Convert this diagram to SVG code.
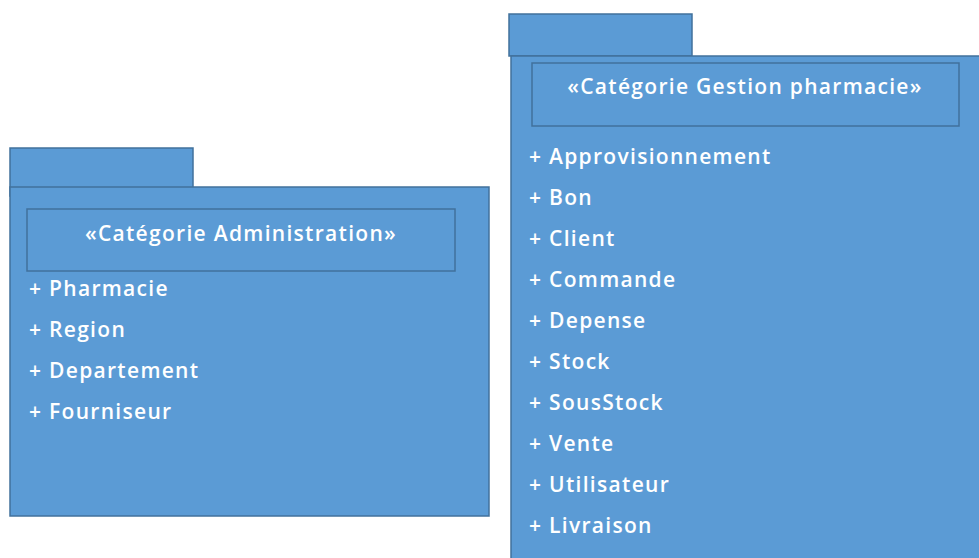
<svg xmlns="http://www.w3.org/2000/svg" width="979" height="558" viewBox="0 0 979 558">
<style>
.pk{fill:#5B9BD5;stroke:#41719C;stroke-width:1.5}
.t{font-family:"Open Sans","Liberation Sans",sans-serif;font-size:21px;font-weight:600;fill:#FFFFFF;letter-spacing:1.3px}
.c{text-anchor:middle}
</style>
<rect width="979" height="558" fill="#FFFFFF"/>
<g id="admin">
<rect class="pk" x="10" y="148" width="183" height="48"/>
<rect class="pk" x="10" y="187" width="479" height="329"/>
<rect class="pk" x="27" y="209" width="428" height="62"/>
<text class="t c" x="241" y="241">«Catégorie Administration»</text>
<text class="t" x="29" y="296">+ Pharmacie</text>
<text class="t" x="29" y="337">+ Region</text>
<text class="t" x="29" y="378">+ Departement</text>
<text class="t" x="29" y="419">+ Fourniseur</text>
</g>
<g id="gestion">
<rect class="pk" x="509" y="14" width="183" height="42"/>
<rect class="pk" x="511" y="56" width="480" height="510"/>
<rect class="pk" x="532" y="63" width="427" height="63"/>
<text class="t c" x="745" y="94">«Catégorie Gestion pharmacie»</text>
<text class="t" x="529" y="164">+ Approvisionnement</text>
<text class="t" x="529" y="205">+ Bon</text>
<text class="t" x="529" y="246">+ Client</text>
<text class="t" x="529" y="287">+ Commande</text>
<text class="t" x="529" y="328">+ Depense</text>
<text class="t" x="529" y="369">+ Stock</text>
<text class="t" x="529" y="410">+ SousStock</text>
<text class="t" x="529" y="451">+ Vente</text>
<text class="t" x="529" y="492">+ Utilisateur</text>
<text class="t" x="529" y="533">+ Livraison</text>
</g>
<g id="connectors"/>
</svg>
